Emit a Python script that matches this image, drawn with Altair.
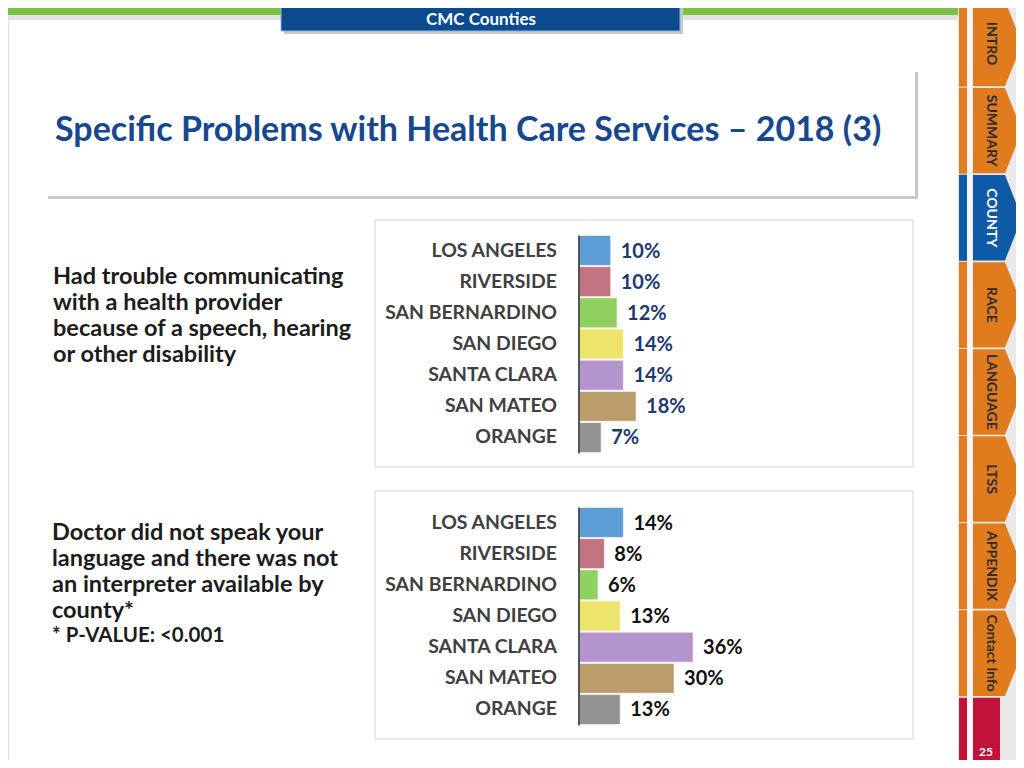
import altair as alt
import pandas as pd

# ---------------- data ----------------
counties = ["LOS ANGELES", "RIVERSIDE", "SAN BERNARDINO", "SAN DIEGO",
            "SANTA CLARA", "SAN MATEO", "ORANGE"]
trouble_pct = [10, 10, 12, 14, 14, 18, 7]
interpreter_pct = [14, 8, 6, 13, 36, 30, 13]
county_colors = ["#5E9ED6", "#C27483", "#8FD05F", "#EDE46C",
                 "#B494CC", "#BB9D6B", "#939393"]
nav_labels = ["INTRO", "SUMMARY", "COUNTY", "RACE", "LANGUAGE", "LTSS",
              "APPENDIX", "Contact Info"]
active_nav = "COUNTY"
question1_lines = ["Had trouble communicating", "with a health provider",
                   "because of a speech, hearing", "or other disability"]
question2_lines = ["Doctor did not speak your", "language and there was not",
                   "an interpreter available by", "county*"]
footnote = "* P-VALUE: <0.001"
title_text = "Specific Problems with Health Care Services \u2013 2018 (3)"
banner_text = "CMC Counties"
page_no = "25"

# ---------------- layout helpers ----------------
O = 8          # page margin: chart coords = reference pixel - 8
W, H = 1008, 752
FONT = "Lato"
one = alt.Data(values=[{"k": 1}])


def box(x1, y1, x2, y2, fill, stroke=None, sw=1.0, opacity=1.0):
    kw = dict(fill=fill, opacity=opacity)
    if stroke:
        kw["stroke"] = stroke
        kw["strokeWidth"] = sw
    else:
        kw["strokeWidth"] = 0
    return alt.Chart(one).mark_rect(**kw).encode(
        x=alt.value(x1 - O), x2=alt.value(x2 - O),
        y=alt.value(y1 - O), y2=alt.value(y2 - O))


def label(x, y, txt, size, color, align="left", weight="bold", angle=0):
    kw = dict(text=txt, fontSize=size, color=color, align=align,
              baseline="middle", font=FONT, fontWeight=weight)
    if angle:
        kw["angle"] = angle
    return alt.Chart(one).mark_text(**kw).encode(
        x=alt.value(x - O), y=alt.value(y - O))


layers = []

# top green banner + blue tab
layers.append(box(0, 15, 958, 20, "#e2e2e2"))
layers.append(box(0, 0, 958, 15, "#7BC143"))
layers.append(box(284, 2, 683, 34, "#c9c9c9"))
layers.append(box(281, 0, 680, 31, "#0B4A8E", stroke="#8db4e2", sw=1))
layers.append(label(481, 20, banner_text, 17, "white", align="center"))

# title box
layers.append(box(48, 72, 918, 199, "#c8c8c8"))
layers.append(box(45, 68, 915, 196, "white"))
layers.append(label(55, 131, title_text, 34, "#17488E"))

# question texts
for i, line in enumerate(question1_lines):
    layers.append(label(53, 277 + 26 * i, line, 23.5, "#1c1c1c"))
for i, line in enumerate(question2_lines):
    layers.append(label(52, 533 + 26 * i, line, 23.5, "#1c1c1c"))
layers.append(label(52, 636, footnote, 20.5, "#1c1c1c"))

# chart panels
layers.append(box(375, 220, 913, 467, "white", stroke="#d4d4d4", sw=1))
layers.append(box(375, 491, 913, 739, "white", stroke="#d4d4d4", sw=1))

xscale = alt.Scale(domain=[0, 100], range=[579 - O, 896 - O])


def panel(values, top, value_color):
    df = pd.DataFrame({"county": counties, "pct": values,
                       "lbl": [f"{v}%" for v in values]})
    ysc = alt.Scale(domain=counties, range=[top - O, top + 217 - O],
                    paddingInner=0.04, paddingOuter=0)
    base = alt.Chart(df)
    bars = base.mark_bar(stroke="white", strokeWidth=0.6).encode(
        x=alt.X("pct:Q", scale=xscale, axis=None),
        x2=alt.datum(0),
        y=alt.Y("county:N", scale=ysc, axis=None, sort=counties),
        color=alt.Color("county:N", scale=alt.Scale(domain=counties, range=county_colors),
                        legend=None))
    vals = base.mark_text(align="left", baseline="middle", dx=10, dy=1,
                          font=FONT, fontWeight="bold", fontSize=20,
                          color=value_color).encode(
        x=alt.X("pct:Q", scale=xscale, axis=None),
        y=alt.Y("county:N", scale=ysc, axis=None, sort=counties),
        text="lbl:N")
    names = base.mark_text(align="right", baseline="middle", dy=0,
                           font=FONT, fontWeight="bold", fontSize=19.4,
                           color="#404040").encode(
        x=alt.value(557 - O),
        y=alt.Y("county:N", scale=ysc, axis=None, sort=counties),
        text="county:N")
    axis_line = alt.Chart(one).mark_rule(color="#555555", strokeWidth=2).encode(
        x=alt.value(579 - O), y=alt.value(top - O), y2=alt.value(top + 218 - O))
    return [bars, vals, names, axis_line]


layers += panel(trouble_pct, 235.5, "#1E3A72")
layers += panel(interpreter_pct, 507.5, "#111111")

# right navigation
layers.append(box(958, 0, 1024, 768, "#e9e9e9"))
layers.append(box(967, 0, 972, 768, "#f7f7f7"))
sec_h = 87.1
tab_path = "M-0.563,-0.98L0.172,-0.98L0.563,0L0.172,0.98L-0.563,0.98Z"
for k, name in enumerate(nav_labels):
    top = k * sec_h
    col = "#0F5AA6" if name == active_nav else "#E07B1E"
    txt_col = "white" if name == active_nav else "#2b2b2b"
    layers.append(box(959, top + 0.5, 967, top + sec_h - 0.5, col))
    cy = top + sec_h / 2
    layers.append(alt.Chart(one).mark_point(
        shape=tab_path, filled=True, fill=col, strokeWidth=0, opacity=1,
        size=sec_h ** 2).encode(x=alt.value(997.5 - O), y=alt.value(cy - O)))
    layers.append(label(991, cy, name, 14, txt_col, align="center", angle=90))
red_top = 8 * sec_h + 1
layers.append(box(959, red_top, 967, 768, "#C0123B"))
layers.append(box(973, red_top, 1000, 768, "#C0123B"))
layers.append(label(986, 752, page_no, 12, "white", align="center"))

chart = alt.layer(*layers).resolve_scale(y="independent").properties(
    width=W, height=H, autosize=alt.AutoSizeParams(type="none"), padding=0
).configure_view(stroke=None).configure(background="white")

chart.save("out.html", embed_options={"renderer": "svg", "actions": False})
